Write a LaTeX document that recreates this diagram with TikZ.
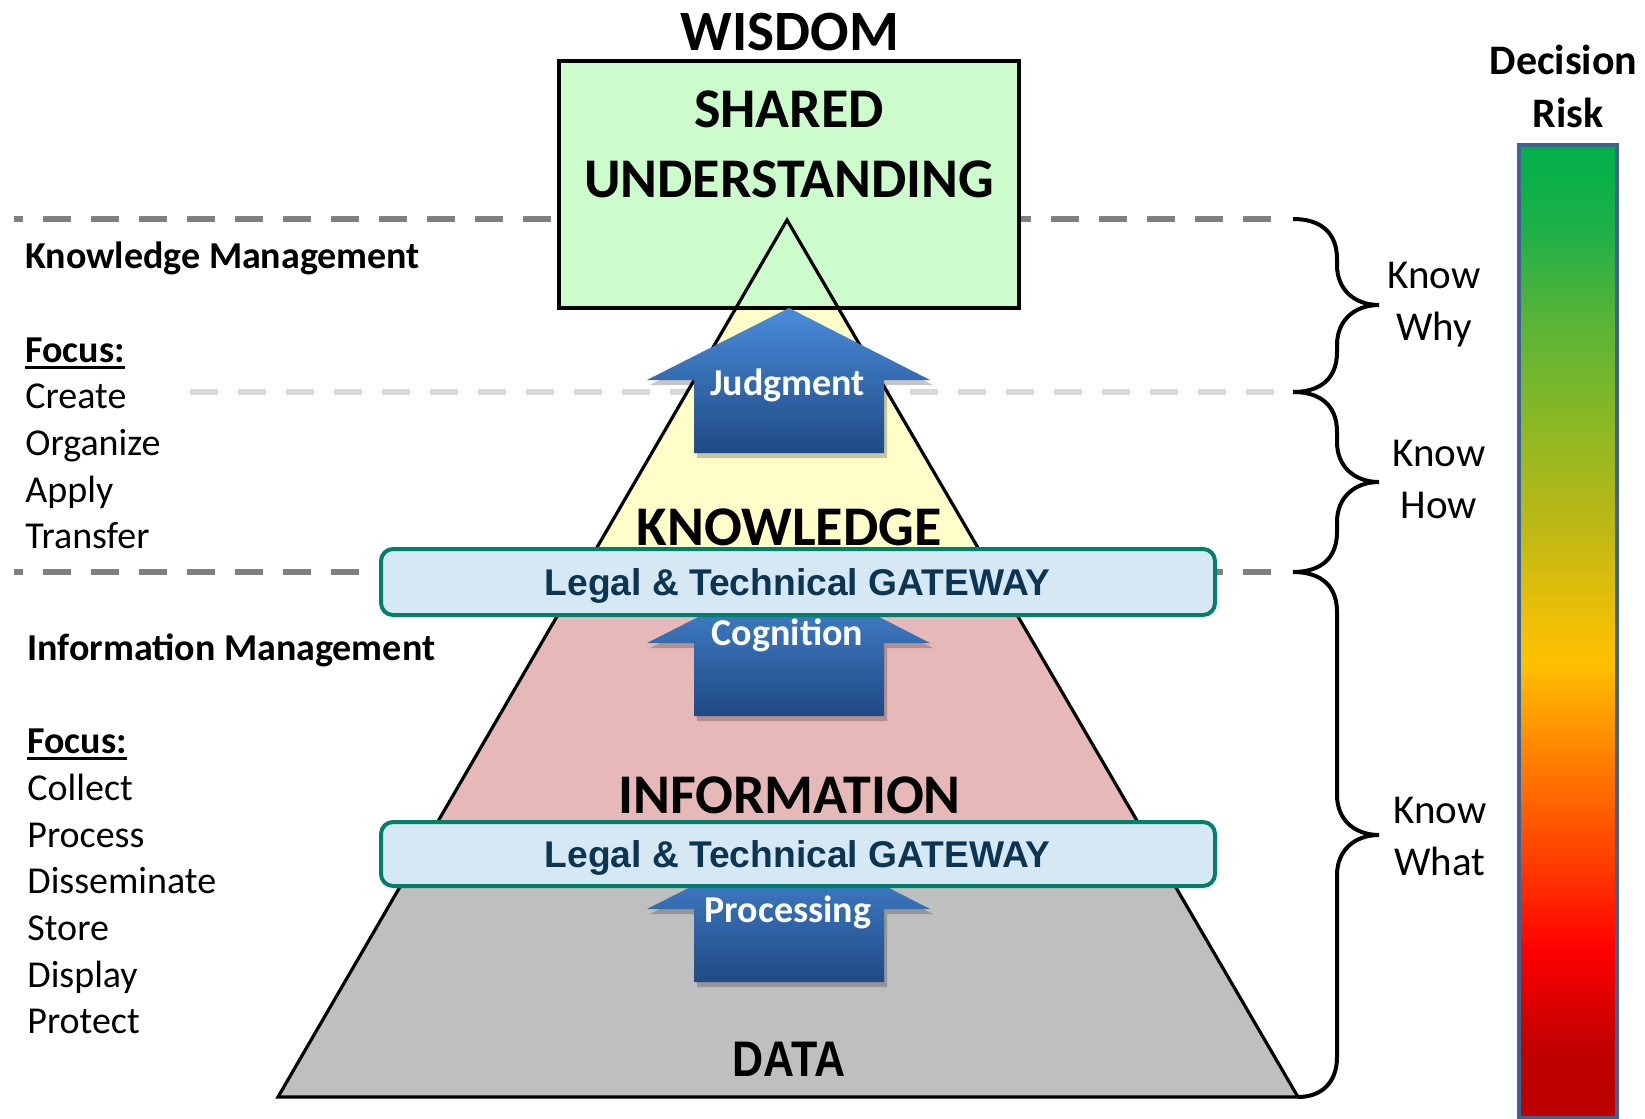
\documentclass[tikz,border=0pt]{standalone}
\usepackage{fontspec}
\setmainfont{Carlito}
\newfontfamily\arialf{Liberation Sans}
\usepackage{graphicx}
\definecolor{dgray}{HTML}{7F7F7F}
\definecolor{lgray}{HTML}{D9D9D9}
\definecolor{yelfill}{HTML}{FFFDC8}
\definecolor{pinkfill}{HTML}{E6B8B7}
\definecolor{grayfill}{HTML}{BFBFBF}
\definecolor{greenfill}{HTML}{CCFCCC}
\definecolor{gatefill}{HTML}{D6E8F3}
\definecolor{gateline}{HTML}{00806C}
\definecolor{gatetext}{HTML}{0B3552}
\definecolor{arrtop}{HTML}{4A8CDA}
\definecolor{arrbot}{HTML}{1F4A84}
\definecolor{barline}{HTML}{41618F}
\definecolor{r01}{HTML}{00B04A}
\definecolor{r02}{HTML}{1EB048}
\definecolor{r03}{HTML}{5DB535}
\definecolor{r04}{HTML}{8EB823}
\definecolor{r05}{HTML}{BEB814}
\definecolor{r06}{HTML}{EBBF08}
\definecolor{r07}{HTML}{FFC000}
\definecolor{r08}{HTML}{FF7A00}
\definecolor{r09}{HTML}{FF3A00}
\definecolor{r10}{HTML}{FF0000}
\definecolor{r11}{HTML}{C00000}
\definecolor{r12}{HTML}{BA0000}
\pgfdeclareverticalshading{riskshade}{100bp}{color(0bp)=(r12); color(25bp)=(r12); color(28.49bp)=(r11); color(33.63bp)=(r10); color(37.90bp)=(r09); color(43.04bp)=(r08); color(48.38bp)=(r07); color(50.95bp)=(r06); color(55.22bp)=(r05); color(60.35bp)=(r04); color(65.49bp)=(r03); color(70.63bp)=(r02); color(75bp)=(r01); color(100bp)=(r01)}
\tikzset{
  dashdark/.style={draw=dgray, line width=3pt, dash pattern=on 14pt off 10pt},
  dashlight/.style={draw=lgray, line width=3pt, dash pattern=on 14pt off 10pt},
  lefttxt/.style={anchor=base west, inner sep=0pt, font=\fontsize{19}{22}\selectfont},
  leftbold/.style={lefttxt, font=\bfseries\fontsize{19}{22}\selectfont},
  bigtxt/.style={anchor=base, inner sep=0pt, font=\bfseries\fontsize{28}{34}\selectfont},
  arrlbl/.style={anchor=base, inner sep=0pt, text=white, font=\bfseries\fontsize{19}{22}\selectfont},
  gatebox/.style={draw=gateline, line width=2pt, fill=gatefill, rounded corners=6pt},
  gatetxt/.style={anchor=base, inner sep=0pt, text=gatetext, font=\arialf\bfseries\fontsize{18.6}{22}\selectfont},
  knowtxt/.style={anchor=base, inner sep=0pt, font=\fontsize{20.5}{24}\selectfont},
  risktxt/.style={anchor=base, inner sep=0pt, font=\bfseries\fontsize{21}{24}\selectfont},
  bracestyle/.style={draw=black, line width=2pt},
  uparr/.pic={
    \fill[black, opacity=0.22] (3,5) -- (144,77) -- (98,77) -- (98,150) -- (-92,150) -- (-92,77) -- (-139,77) -- cycle;
    \path[top color=arrtop, bottom color=arrbot] (0,0) -- (141,72) -- (95,72) -- (95,145) -- (-95,145) -- (-95,72) -- (-142,72) -- cycle;
  }
}
\begin{document}
\begin{tikzpicture}[x=0.5pt,y=-0.5pt]
\useasboundingbox (0,0) rectangle (1645,1119);
% dashed separators
\draw[dashdark, dash phase=9.5pt] (14,219) -- (1280,219);
\draw[dashlight] (190,392) -- (1280,392);
\draw[dashdark, dash phase=9.5pt] (14,572) -- (1280,572);
% pyramid
\coordinate (apex) at (787,220);
\coordinate (bl) at (278,1097);
\coordinate (br) at (1298,1097);
\fill[grayfill] (apex) -- (bl) -- (br) -- cycle;
\begin{scope}
  \clip (apex) -- (bl) -- (br) -- cycle;
  \fill[yelfill] (200,150) rectangle (1400,582);
  \fill[pinkfill] (200,582) rectangle (1400,854);
\end{scope}
% shared understanding box
\draw[fill=greenfill, line width=2.2pt] (559,61) rectangle (1019,308);
\draw[line width=1.6pt, line join=miter] (apex) -- (bl) -- (br) -- cycle;
% arrows
\pic at (789,308) {uparr};
\pic at (789,571) {uparr};
\pic at (789,837) {uparr};
% gateways
\draw[gatebox] (381,549) rectangle (1215,615);
\draw[gatebox] (381,822) rectangle (1215,886);
\node[gatetxt] (gw1) at (797.5,595) {Legal \& Technical GATEWAY};
\node[gatetxt] (gw2) at (797.5,867) {Legal \& Technical GATEWAY};
% pyramid texts
\node[bigtxt, font=\bfseries\fontsize{28.5}{34}\selectfont] (wisdom) at (790,50) {WISDOM};
\node[bigtxt] (shared) at (789,127) {SHARED};
\node[bigtxt] (underst) at (789,197) {UNDERSTANDING};
\node[bigtxt] (knowl) at (789,545) {KNOWLEDGE};
\node[bigtxt] (inform) at (789.5,813) {INFORMATION};
\node[anchor=base, inner sep=0pt, font=\arialf\bfseries\fontsize{25}{30}\selectfont] (data) at (789,1076) {\scalebox{0.86}[1]{DATA}};
\node[arrlbl] (judg) at (787.5,395) {Judgment};
\node[arrlbl] (cogn) at (787.5,645) {Cognition};
\node[arrlbl] (proc) at (788,922) {Processing};
% left texts
\node[leftbold] (km) at (25,268) {Knowledge Management};
\node[leftbold] (f1) at (25,362) {Focus:};
\draw[line width=1.3pt] ([yshift=-2.6pt]f1.base west) -- ([yshift=-2.6pt]f1.base east);
\node[lefttxt] (c1) at (25,408) {Create};
\node[lefttxt] (c2) at (25,455) {Organize};
\node[lefttxt] (c3) at (25,502) {Apply};
\node[lefttxt] (c4) at (25,548) {Transfer};
\node[leftbold] (im) at (27,660) {Information Management};
\node[leftbold] (f2) at (27,753) {Focus:};
\draw[line width=1.3pt] ([yshift=-2.6pt]f2.base west) -- ([yshift=-2.6pt]f2.base east);
\node[lefttxt] (d1) at (27,800) {Collect};
\node[lefttxt] (d2) at (27,847) {Process};
\node[lefttxt] (d3) at (27,893) {Disseminate};
\node[lefttxt] (d4) at (27,940) {Store};
\node[lefttxt] (d5) at (27,987) {Display};
\node[lefttxt] (d6) at (27,1033) {Protect};
% braces
\draw[bracestyle] (1293,219) .. controls (1320,219) and (1337,232) .. (1337,259) -- (1337,265)
  .. controls (1337,290) and (1355,305) .. (1379,305)
  .. controls (1355,305) and (1337,320) .. (1337,345) -- (1337,352)
  .. controls (1337,379) and (1320,392) .. (1293,392);
\draw[bracestyle] (1293,392) .. controls (1320,392) and (1337,405) .. (1337,432) -- (1337,442)
  .. controls (1337,467) and (1355,482) .. (1379,482)
  .. controls (1355,482) and (1337,497) .. (1337,522) -- (1337,532)
  .. controls (1337,559) and (1320,572) .. (1293,572);
\draw[bracestyle] (1293,572) .. controls (1320,572) and (1337,585) .. (1337,612) -- (1337,795)
  .. controls (1337,820) and (1355,835) .. (1379,835)
  .. controls (1355,835) and (1337,850) .. (1337,875) -- (1337,1057)
  .. controls (1337,1084) and (1320,1097) .. (br);
\node[knowtxt] (k1) at (1434,288) {Know};
\node[knowtxt] (w1) at (1434,340) {Why};
\node[knowtxt] (k2) at (1439,466) {Know};
\node[knowtxt] (w2) at (1439,518) {How};
\node[knowtxt] (k3) at (1440,823) {Know};
\node[knowtxt] (w3) at (1440,875) {What};
% decision risk bar
\node[risktxt] (dec) at (1563.5,75) {Decision};
\node[risktxt] (risk) at (1568,127) {Risk};
\shade[shading=riskshade] (1519,145) rectangle (1617,1118);
\draw[draw=barline, line width=2pt] (1519,145) rectangle (1617,1118);
\end{tikzpicture}
\end{document}
